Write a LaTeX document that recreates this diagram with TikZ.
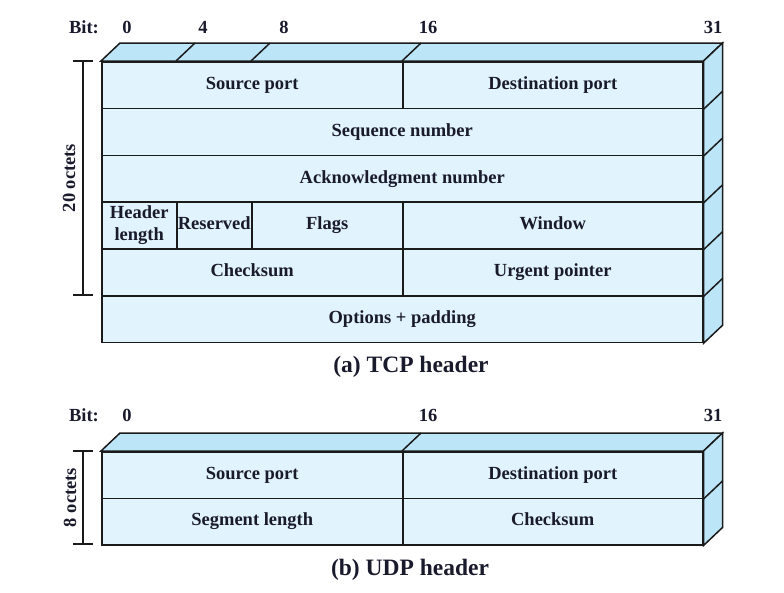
\documentclass[tikz,border=0pt]{standalone}
\usepackage{fontspec}
\setmainfont{Liberation Serif}
\usetikzlibrary{calc}
\definecolor{frontc}{HTML}{E1F3FC}
\definecolor{facec}{HTML}{BCE5F8}
\definecolor{linec}{HTML}{1A1A1A}
\definecolor{txtc}{HTML}{1A1A2D}
\newcommand{\fieldfont}{\fontsize{18.5}{22}\selectfont\bfseries}
\newcommand{\captionfont}{\fontsize{23.5}{28}\selectfont\bfseries}
\begin{document}
\begin{tikzpicture}[x=1pt,y=-1pt,
  field/.style={draw=linec, fill=frontc, line width=1.5pt, inner sep=0pt,
    anchor=north west, text=txtc, font=\fieldfont, align=center},
  oneline/.style={text height=12.5pt, text depth=4pt},
  tcprow/.style={field, minimum height=46.8pt},
  udprow/.style={field, minimum height=46.5pt},
  face/.style={draw=linec, fill=facec, line width=1.5pt, line join=miter},
  edge/.style={draw=linec, line width=1.5pt},
  brace/.style={draw=linec, line width=1.2pt},
  bitlbl/.style={text=txtc, font=\fieldfont, inner sep=0pt},
  caption/.style={text=txtc, font=\captionfont, inner sep=0pt}]
\useasboundingbox (0,0) rectangle (784,592);

% ---------------- TCP header ----------------
\node[tcprow, oneline, minimum width=301pt] (tsrc) at (101,61) {Source port};
\node[tcprow, oneline, minimum width=300pt] (tdst) at (402,61) {Destination port};
\node[tcprow, oneline, minimum width=601pt] (tseq) at (101,107.8) {Sequence number};
\node[tcprow, oneline, minimum width=601pt] (tack) at (101,154.6) {Acknowledgment number};
\node[tcprow, minimum width=75pt]  (thl)  at (101,201.4) {Header\\length};
\node[tcprow, oneline, minimum width=75pt]  (tres) at (176,201.4) {Reserved};
\node[tcprow, oneline, minimum width=151pt] (tflg) at (251,201.4) {Flags};
\node[tcprow, oneline, minimum width=300pt] (twin) at (402,201.4) {Window};
\node[tcprow, oneline, minimum width=301pt] (tchk) at (101,248.2) {Checksum};
\node[tcprow, oneline, minimum width=300pt] (turg) at (402,248.2) {Urgent pointer};
\node[tcprow, oneline, minimum width=601pt] (topt) at (101,295) {Options + padding};

% top and side faces
\draw[face] (tsrc.north west) -- ++(19,-18) -- ($(tdst.north east)+(19,-18)$)
  -- (tdst.north east) -- cycle;
\draw[face] (tdst.north east) -- ++(19,-18) -- ($(topt.south east)+(19,-18)$)
  -- (topt.south east) -- cycle;
\foreach \n in {tres, tflg, tdst}
  \draw[edge] (\n.north west |- tsrc.north) -- ++(19,-18);
\foreach \n in {tdst, tseq, tack, twin, turg}
  \draw[edge] (\n.south east) -- ++(19,-18);

% bit positions
\node[bitlbl] (tbit) at (84,27) {Bit:};
\node[bitlbl] (tb0)  at (127,27) {0};
\node[bitlbl] (tb4)  at (203,27) {4};
\node[bitlbl] (tb8)  at (284,27) {8};
\node[bitlbl] (tb16) at (428,27) {16};
\node[bitlbl] (tb31) at (713,27) {31};

% size marker
\coordinate (tbt) at (83,61);
\coordinate (tbb) at (83,295);
\draw[brace] (tbt) -- (tbb);
\draw[brace] ($(tbt)+(-10,0)$) -- ($(tbt)+(10,0)$);
\draw[brace] ($(tbb)+(-10,0)$) -- ($(tbb)+(10,0)$);
\node[bitlbl, rotate=90] (toct) at (69,178) {20 octets};

\node[caption] (tcap) at (411,367) {(a) TCP header};

% ---------------- UDP header ----------------
\node[udprow, oneline, minimum width=301pt] (usrc) at (101,451) {Source port};
\node[udprow, oneline, minimum width=300pt] (udst) at (402,451) {Destination port};
\node[udprow, oneline, minimum width=301pt] (ulen) at (101,497.5) {Segment length};
\node[udprow, oneline, minimum width=300pt] (uchk) at (402,497.5) {Checksum};

\draw[face] (usrc.north west) -- ++(19,-18) -- ($(udst.north east)+(19,-18)$)
  -- (udst.north east) -- cycle;
\draw[face] (udst.north east) -- ++(19,-18) -- ($(uchk.south east)+(19,-18)$)
  -- (uchk.south east) -- cycle;
\draw[edge] (udst.north west) -- ++(19,-18);
\draw[edge] (udst.south east) -- ++(19,-18);

\node[bitlbl] (ubit) at (84,415) {Bit:};
\node[bitlbl] (ub0)  at (127,415) {0};
\node[bitlbl] (ub16) at (428,415) {16};
\node[bitlbl] (ub31) at (713,415) {31};

\coordinate (ubt) at (83,451);
\coordinate (ubb) at (83,544);
\draw[brace] (ubt) -- (ubb);
\draw[brace] ($(ubt)+(-10,0)$) -- ($(ubt)+(10,0)$);
\draw[brace] ($(ubb)+(-10,0)$) -- ($(ubb)+(10,0)$);
\node[bitlbl, rotate=90] (uoct) at (70,497.5) {8 octets};

\node[caption] (ucap) at (410,570) {(b) UDP header};
\end{tikzpicture}
\end{document}
